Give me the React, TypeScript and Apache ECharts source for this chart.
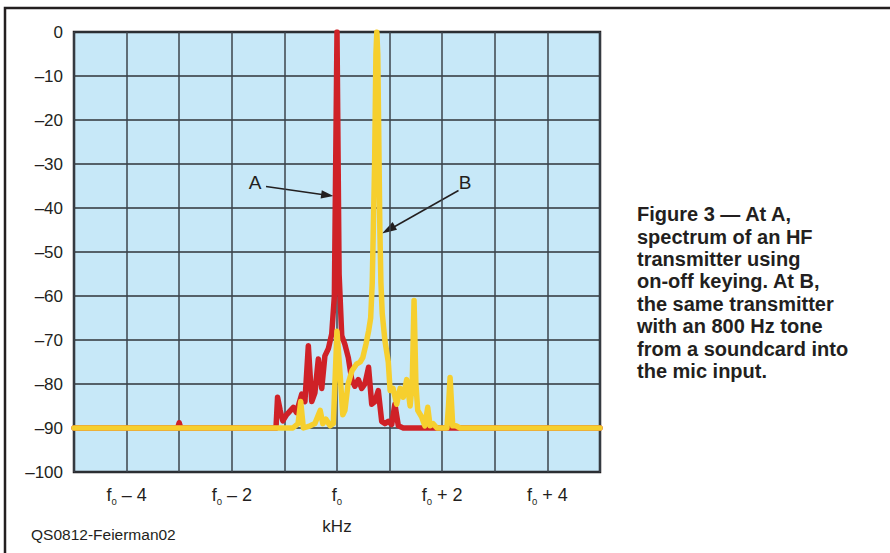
import React, { useEffect, useRef } from "react";
import * as echarts from "echarts";

// x in kHz relative to f0, y in dB
const redX = [-5, -3.03, -3, -2.97, -1.16, -1.13, -1.08, -1.03, -0.96, -0.83, -0.77, -0.67, -0.61, -0.545, -0.48, -0.42, -0.355, -0.29, -0.23, -0.165, -0.1, -0.05, 0, 0.04, 0.09, 0.15, 0.215, 0.28, 0.34, 0.405, 0.47, 0.53, 0.6, 0.66, 0.72, 0.785, 0.85, 0.91, 0.975, 1.04, 1.1, 1.166, 1.26, 5];
const redY = [-90, -90, -88.8, -90, -90, -83, -86, -88.4, -87, -85.3, -86.5, -82.3, -84, -71.3, -84, -82, -74.3, -81, -73.6, -72, -68.6, -60, 0, -55, -69, -71, -74, -79, -80.5, -79, -81, -80, -76.2, -84.6, -84, -81.5, -88.5, -89, -88.5, -89.2, -84.6, -89.5, -90, -90];

const yelX = [-5, -0.84, -0.74, -0.69, -0.64, -0.51, -0.42, -0.32, -0.27, -0.21, -0.13, -0.07, 0, 0.06, 0.11, 0.15, 0.21, 0.285, 0.37, 0.44, 0.49, 0.55, 0.6, 0.64, 0.67, 0.715, 0.74, 0.757, 0.775, 0.8, 0.815, 0.835, 0.86, 0.91, 0.975, 1.01, 1.065, 1.135, 1.2, 1.26, 1.325, 1.39, 1.43, 1.465, 1.5, 1.535, 1.61, 1.67, 1.725, 1.77, 1.825, 1.9, 2.09, 2.12, 2.15, 2.18, 2.2, 2.26, 2.34, 5];
const yelY = [-90, -90, -89, -84, -90, -89.5, -89, -86, -89, -88, -89.5, -89, -68, -78, -87, -86, -80, -77, -75.5, -75, -74, -71, -68, -65, -57, -30, -5, 0, -5, -30, -45, -57, -64, -70, -75, -81.5, -81, -84.6, -81, -83, -79, -85, -80, -61, -80, -86, -87.5, -89.5, -85.3, -89.5, -89, -90, -90, -85, -78.5, -85, -89.5, -89.5, -90, -90];

const yTicks = [0, -10, -20, -30, -40, -50, -60, -70, -80, -90, -100];
const xLabelTicks = [-4, -2, 0, 2, 4];

const captionLines = [
  "Figure 3 \u2014 At A,",
  "spectrum of an HF",
  "transmitter using",
  "on-off keying. At B,",
  "the same transmitter",
  "with an 800 Hz tone",
  "from a soundcard into",
  "the mic input.",
];

const FONT = "'Liberation Sans', Arial, Helvetica, sans-serif";

export default function App() {
  const ref = useRef<HTMLDivElement>(null);
  useEffect(() => {
    if (!ref.current) return;
    const chart = echarts.init(ref.current, undefined, { renderer: "svg" });
    const red = redX.map((x, i) => [x, redY[i]]);
    const yel = yelX.map((x, i) => [x, yelY[i]]);
    const ink = "#231f20";
    chart.setOption({
      animation: false,
      backgroundColor: "#ffffff",
      textStyle: { fontFamily: FONT },
      grid: {
        left: 74,
        top: 32,
        right: 290,
        bottom: 81,
        show: true,
        backgroundColor: "#c7e8f8",
        borderColor: ink,
        borderWidth: 2.5,
      },
      xAxis: {
        type: "value",
        min: -5,
        max: 5,
        interval: 1,
        name: "kHz",
        nameLocation: "middle",
        nameGap: 46,
        nameTextStyle: { fontSize: 17, color: ink, fontFamily: FONT },
        axisLine: { show: false },
        axisTick: { show: false },
        splitLine: { show: true, lineStyle: { color: "#3d454c", width: 1.5 } },
        axisLabel: {
          margin: 11,
          color: ink,
          fontFamily: FONT,
          formatter: (v: number) => {
            if (!xLabelTicks.includes(v)) return "";
            if (v === 0) return "{f|f}{s|0}";
            return `{f|f}{s|0}{f| ${v < 0 ? "\u2013" : "+"} ${Math.abs(v)}}`;
          },
          rich: {
            f: { fontSize: 18, color: ink, fontFamily: FONT },
            s: { fontSize: 9.5, color: ink, fontFamily: FONT, padding: [13, 0, 0, 0] },
          },
        },
      },
      yAxis: {
        type: "value",
        min: -100,
        max: 0,
        interval: 10,
        axisLine: { show: false },
        axisTick: { show: false },
        splitLine: { show: true, lineStyle: { color: "#2f353a", width: 1.5 } },
        axisLabel: {
          margin: 11,
          fontSize: 17,
          color: ink,
          fontFamily: FONT,
          formatter: (v: number) => (yTicks.includes(v) ? (v === 0 ? "0" : "\u2013" + Math.abs(v)) : ""),
        },
      },
      series: [
        {
          type: "line",
          data: red,
          showSymbol: false,
          lineStyle: { color: "#cf2127", width: 5.5, join: "round", cap: "round" },
          z: 3,
        },
        {
          type: "line",
          data: yel,
          showSymbol: false,
          lineStyle: { color: "#f6cf2e", width: 5.5, join: "round", cap: "round" },
          z: 4,
        },
      ],
      graphic: [
        {
          type: "polyline",
          shape: { points: [[5, 560], [5, 8], [895, 8]] },
          style: { stroke: ink, lineWidth: 2.5, fill: "none" },
          silent: true,
        },
        {
          type: "text",
          x: 637,
          y: 203,
          style: {
            text: captionLines.join("\n"),
            font: `bold 20px ${FONT}`,
            lineHeight: 22.4,
            fill: ink,
            verticalAlign: "top",
          },
        },
        {
          type: "text",
          x: 31,
          y: 534,
          style: { text: "QS0812-Feierman02", font: `15.5px ${FONT}`, fill: ink, verticalAlign: "middle" },
        },
        {
          type: "text",
          x: 255,
          y: 182,
          style: { text: "A", font: `19px ${FONT}`, fill: ink, align: "center", verticalAlign: "middle" },
        },
        {
          type: "line",
          shape: { x1: 266, y1: 186.5, x2: 322, y2: 194.5 },
          style: { stroke: ink, lineWidth: 1.5 },
        },
        {
          type: "polygon",
          shape: { points: [[333.5, 196], [320.6, 198.6], [321.8, 190.2]] },
          style: { fill: ink },
        },
        {
          type: "text",
          x: 465,
          y: 182,
          style: { text: "B", font: `19px ${FONT}`, fill: ink, align: "center", verticalAlign: "middle" },
        },
        {
          type: "line",
          shape: { x1: 458.5, y1: 190.5, x2: 393, y2: 227.5 },
          style: { stroke: ink, lineWidth: 1.5 },
        },
        {
          type: "polygon",
          shape: { points: [[382, 233.5], [397, 229.8], [392.6, 222]] },
          style: { fill: ink },
        },
      ],
    });
    return () => chart.dispose();
  }, []);
  return (
    <div
      ref={ref}
      style={{ position: "fixed", left: 0, top: 0, width: 890, height: 553 }}
    />
  );
}
